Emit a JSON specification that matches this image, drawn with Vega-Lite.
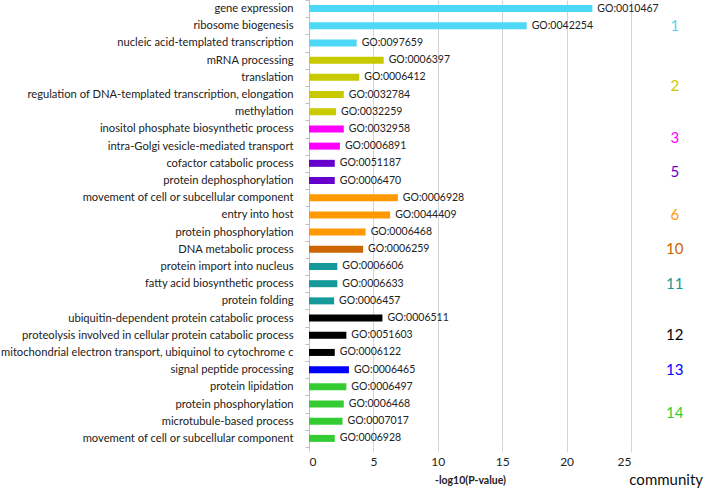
{
  "$schema": "https://vega.github.io/schema/vega-lite/v6.json",
  "autosize": {"type": "none"},
  "padding": {"left": 309, "top": 0, "right": 77, "bottom": 41},
  "width": 322,
  "height": 447,
  "background": "white",
  "config": {"view": {"stroke": null}, "font": "Lato"},
  "title": {"text": "community", "orient": "bottom", "anchor": "end", "frame": "group", "fontSize": 15, "fontWeight": "normal", "font": "Lato", "color": "#111", "dx": 72, "offset": -13},
  "data": {"values": [
    {"rank": 0, "term": "gene expression", "go": "GO:0010467", "value": 22.0, "community": "1"},
    {"rank": 1, "term": "ribosome biogenesis", "go": "GO:0042254", "value": 16.9, "community": "1"},
    {"rank": 2, "term": "nucleic acid-templated transcription", "go": "GO:0097659", "value": 3.7, "community": "1"},
    {"rank": 3, "term": "mRNA processing", "go": "GO:0006397", "value": 5.8, "community": "2"},
    {"rank": 4, "term": "translation", "go": "GO:0006412", "value": 3.9, "community": "2"},
    {"rank": 5, "term": "regulation of DNA-templated transcription, elongation", "go": "GO:0032784", "value": 2.7, "community": "2"},
    {"rank": 6, "term": "methylation", "go": "GO:0032259", "value": 2.1, "community": "2"},
    {"rank": 7, "term": "inositol phosphate biosynthetic process", "go": "GO:0032958", "value": 2.7, "community": "3"},
    {"rank": 8, "term": "intra-Golgi vesicle-mediated transport", "go": "GO:0006891", "value": 2.4, "community": "3"},
    {"rank": 9, "term": "cofactor catabolic process", "go": "GO:0051187", "value": 2.0, "community": "5"},
    {"rank": 10, "term": "protein dephosphorylation", "go": "GO:0006470", "value": 2.0, "community": "5"},
    {"rank": 11, "term": "movement of cell or subcellular component", "go": "GO:0006928", "value": 6.9, "community": "6"},
    {"rank": 12, "term": "entry into host", "go": "GO:0044409", "value": 6.3, "community": "6"},
    {"rank": 13, "term": "protein phosphorylation", "go": "GO:0006468", "value": 4.4, "community": "6"},
    {"rank": 14, "term": "DNA metabolic process", "go": "GO:0006259", "value": 4.2, "community": "10"},
    {"rank": 15, "term": "protein import into nucleus", "go": "GO:0006606", "value": 2.2, "community": "11"},
    {"rank": 16, "term": "fatty acid biosynthetic process", "go": "GO:0006633", "value": 2.2, "community": "11"},
    {"rank": 17, "term": "protein folding", "go": "GO:0006457", "value": 1.95, "community": "11"},
    {"rank": 18, "term": "ubiquitin-dependent protein catabolic process", "go": "GO:0006511", "value": 5.7, "community": "12"},
    {"rank": 19, "term": "proteolysis involved in cellular protein catabolic process", "go": "GO:0051603", "value": 2.9, "community": "12"},
    {"rank": 20, "term": "mitochondrial electron transport, ubiquinol to cytochrome c", "go": "GO:0006122", "value": 2.0, "community": "12"},
    {"rank": 21, "term": "signal peptide processing", "go": "GO:0006465", "value": 3.1, "community": "13"},
    {"rank": 22, "term": "protein lipidation", "go": "GO:0006497", "value": 2.9, "community": "14"},
    {"rank": 23, "term": "protein phosphorylation\u200b", "go": "GO:0006468", "value": 2.7, "community": "14"},
    {"rank": 24, "term": "microtubule-based process", "go": "GO:0007017", "value": 2.6, "community": "14"},
    {"rank": 25, "term": "movement of cell or subcellular component\u200b", "go": "GO:0006928", "value": 2.0, "community": "14"}
  ]},
  "layer": [
    {
      "encoding": {
        "y": {"field": "term", "type": "nominal", "sort": {"field": "rank", "op": "min", "order": "ascending"},
          "scale": {"paddingInner": 0, "paddingOuter": 0},
          "axis": {"title": null, "domain": true, "domainColor": "#bfbfbf", "ticks": true, "tickBand": "extent", "tickSize": 4, "tickColor": "#bfbfbf", "labelPadding": 12, "labelFontSize": 11.2, "labelColor": "#222", "labelFont": "Lato", "grid": false, "labelLimit": 400}},
        "x": {"field": "value", "type": "quantitative", "scale": {"domain": [0, 25], "nice": false},
          "axis": {"values": [0, 5, 10, 15, 20, 25], "grid": true, "gridColor": "#d4d4d4", "domain": false, "ticks": true, "tickColor": "#d4d4d4", "tickSize": 5, "labelPadding": 4, "labelFontSize": 12, "labelColor": "#222", "labelFont": "Lato", "title": "-log10(P-value)", "titleFont": "Lato", "titleFontSize": 10.5, "titleFontWeight": "bold", "titleColor": "#222", "titlePadding": 8}},
        "color": {"field": "community", "type": "nominal", "legend": null,
          "scale": {"domain": ["1", "2", "3", "5", "6", "10", "11", "12", "13", "14"],
            "range": ["#4dd8f5", "#c9c900", "#ff00ff", "#6600cc", "#ff9900", "#cc6600", "#149a9a", "#000000", "#0000ff", "#33cc33"]}}
      },
      "layer": [
        {"mark": {"type": "bar", "size": 7}},
        {"mark": {"type": "text", "align": "left", "baseline": "middle", "dx": 5, "fontSize": 10.5, "font": "Lato", "color": "#222"},
          "encoding": {"text": {"field": "go"}, "color": {"value": "#222"}}}
      ]
    },
    {
      "transform": [{"aggregate": [{"op": "mean", "field": "rank", "as": "mid"}], "groupby": ["community"]}],
      "mark": {"type": "text", "align": "center", "baseline": "middle", "fontSize": 15, "font": "Lato"},
      "encoding": {
        "x": {"datum": 28.4},
        "y": {"field": "mid", "type": "quantitative", "scale": {"domain": [-0.5, 25.5], "reverse": true, "nice": false, "zero": false}, "axis": null},
        "text": {"field": "community"},
        "color": {"field": "community", "type": "nominal", "legend": null}
      }
    }
  ],
  "resolve": {"scale": {"y": "independent"}}
}
